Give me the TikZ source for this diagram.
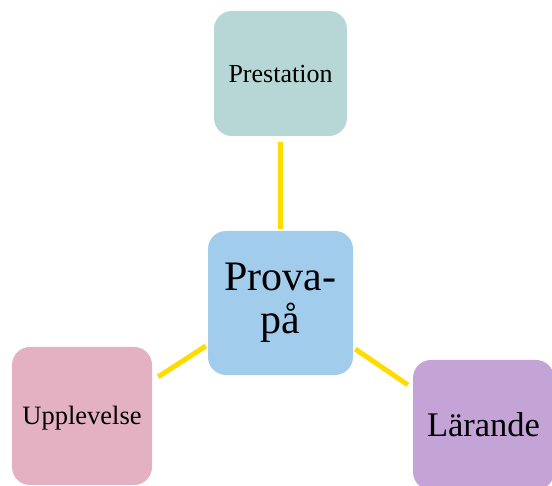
\documentclass[tikz,border=0pt]{standalone}
\usepackage{fontspec}
\setmainfont{Liberation Serif}
\usetikzlibrary{calc}
\definecolor{boxteal}{HTML}{B6D7D5}
\definecolor{boxblue}{HTML}{A2CCEC}
\definecolor{boxpink}{HTML}{E3B1C1}
\definecolor{boxlilac}{HTML}{C4A4D7}
\definecolor{linkyellow}{HTML}{FFDC00}
\begin{document}
\begin{tikzpicture}[x=1pt,y=1pt,
  card/.style={rectangle, rounded corners=18pt, draw=none, inner sep=0pt, align=center, text=black},
  oneline/.style={text height=#1, text depth=0pt},
  link/.style={draw=linkyellow, line width=5pt}]
\useasboundingbox (0,0) rectangle (552,486);
\clip (0,0) rectangle (552,486);
% outer cards
\node[card, oneline=17.2pt, fill=boxteal, minimum width=133pt, minimum height=125pt,
  font=\fontsize{26}{30}\selectfont] (t) at (280.5,412.5) {Prestation};
\node[card, oneline=17.5pt, fill=boxpink, minimum width=140pt, minimum height=138pt,
  font=\fontsize{26.5}{30}\selectfont] (l) at (82,70) {Upplevelse};
\node[card, oneline=22.8pt, fill=boxlilac, minimum width=141pt, minimum height=130pt,
  font=\fontsize{34.5}{40}\selectfont] (r) at (483.5,61) {Lärande};
% central card
\node[card, fill=boxblue, minimum width=145pt, minimum height=144pt,
  font=\fontsize{42}{43}\selectfont] (c) at (280.5,183) {Prova-\\på};
% connectors
\draw[link] ([yshift=2pt]c.north) -- ([yshift=-6pt]t.south);
\draw[link] ([shift={(-2pt,-43pt)}]c.west) -- ([shift={(6pt,-30pt)}]l.north east);
\draw[link] ([shift={(2pt,-46pt)}]c.east) -- ([shift={(-5pt,-25pt)}]r.north west);
\end{tikzpicture}
\end{document}
